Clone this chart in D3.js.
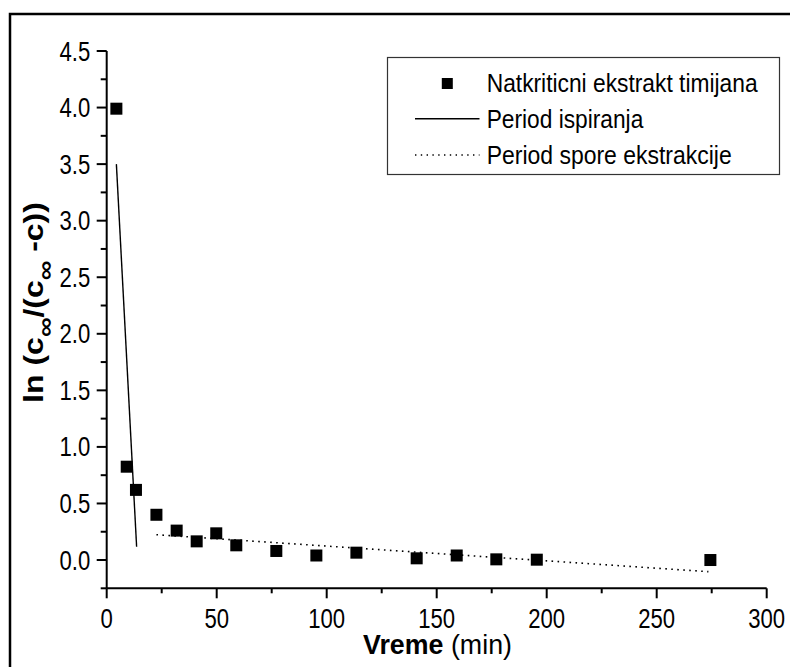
<!DOCTYPE html>
<html>
<head>
<meta charset="utf-8">
<script src="https://cdn.jsdelivr.net/npm/d3@7"></script>
<style>
  html, body { margin: 0; padding: 0; background: #fff; }
  svg { display: block; }
  .f { font-family: "Liberation Sans Narrow", "Arial Narrow", "Liberation Sans", Arial, sans-serif; }
</style>
</head>
<body>
<svg id="chart" width="790" height="667"></svg>
<script>
// ---- data ----
const timeMin = [4.4, 9.1, 13.3, 22.6, 31.8, 40.9, 49.8, 58.9, 77.1, 95.3, 113.5, 140.9, 159.1, 177.1, 195.5, 274.4];
const lnValue = [3.99, 0.825, 0.62, 0.40, 0.26, 0.165, 0.236, 0.13, 0.08, 0.04, 0.065, 0.015, 0.04, 0.006, 0.003, 0.0];
const washX = [4.4, 13.6];
const washY = [3.50, 0.118];
const slowX = [22.6, 273.5];
const slowY = [0.224, -0.103];
const xTicks = [0, 50, 100, 150, 200, 250, 300];
const yTicks = [0.0, 0.5, 1.0, 1.5, 2.0, 2.5, 3.0, 3.5, 4.0, 4.5];
const legendLabels = ["Natkriticni ekstrakt timijana", "Period ispiranja", "Period spore ekstrakcije"];

const svg = d3.select("#chart");
const tickFont = 27;
const narrow = 0.82;

// squeeze a text element horizontally to a target width (emulates a narrow face)
function fit(el, target) {
  const w = el.getComputedTextLength();
  return w > 0 ? target / w : 1;
}

// outer frame (only top/left visible in the picture)
svg.append("rect").attr("x", 10).attr("y", 14).attr("width", 800).attr("height", 700)
  .attr("fill", "none").attr("stroke", "#000").attr("stroke-width", 2.5);

const x = d3.scaleLinear().domain([0, 300]).range([106.7, 766.7]);
const y = d3.scaleLinear().domain([-0.25, 4.5]).range([588.3, 51]);

// x axis
const xMinor = d3.range(25, 300, 50);
const gx = svg.append("g").attr("transform", `translate(0,${y(-0.25)})`);
gx.append("line").attr("x1", x(0)).attr("x2", x(300)).attr("stroke", "#000").attr("stroke-width", 2);
gx.selectAll(".mj").data(xTicks).join("line")
  .attr("x1", d => x(d)).attr("x2", d => x(d)).attr("y1", 0).attr("y2", 10)
  .attr("stroke", "#000").attr("stroke-width", 2);
gx.selectAll(".mn").data(xMinor).join("line")
  .attr("x1", d => x(d)).attr("x2", d => x(d)).attr("y1", 0).attr("y2", 5)
  .attr("stroke", "#000").attr("stroke-width", 2);
gx.selectAll("text").data(xTicks).join("text").attr("class", "f")
  .attr("transform", d => `translate(${x(d)},40) scale(${narrow},1)`)
  .attr("text-anchor", "middle").attr("font-size", tickFont).text(d => d);

// y axis
const yMinor = d3.range(-0.25, 4.5, 0.5);
const gy = svg.append("g").attr("transform", `translate(${x(0)},0)`);
gy.append("line").attr("y1", y(-0.25)).attr("y2", y(4.5)).attr("stroke", "#000").attr("stroke-width", 2);
gy.selectAll(".mj").data(yTicks).join("line")
  .attr("y1", d => y(d)).attr("y2", d => y(d)).attr("x1", 0).attr("x2", -10)
  .attr("stroke", "#000").attr("stroke-width", 2);
gy.selectAll(".mn").data(yMinor).join("line")
  .attr("y1", d => y(d)).attr("y2", d => y(d)).attr("x1", 0).attr("x2", -6)
  .attr("stroke", "#000").attr("stroke-width", 2);
gy.selectAll("text").data(yTicks).join("text").attr("class", "f")
  .attr("transform", d => `translate(-16.5,${y(d) + 9.5}) scale(${narrow},1)`)
  .attr("text-anchor", "end").attr("font-size", tickFont).text(d => d.toFixed(1));

// lines
const line = d3.line().x(d => x(d[0])).y(d => y(d[1]));
svg.append("path").datum(d3.zip(washX, washY)).attr("d", line)
  .attr("fill", "none").attr("stroke", "#000").attr("stroke-width", 1.4);
svg.append("path").datum(d3.zip(slowX, slowY)).attr("d", line)
  .attr("fill", "none").attr("stroke", "#000").attr("stroke-width", 1.6).attr("stroke-dasharray", "1.6,4.4");

// points
const sq = 12;
svg.selectAll(".pt").data(d3.zip(timeMin, lnValue)).join("rect")
  .attr("x", d => x(d[0]) - sq / 2).attr("y", d => y(d[1]) - sq / 2)
  .attr("width", sq).attr("height", sq).attr("fill", "#000");

// axis titles
const xt = svg.append("text").attr("class", "f").attr("text-anchor", "middle").attr("font-size", 28);
xt.append("tspan").attr("font-weight", "bold").text("Vreme");
xt.append("tspan").text(" (min)");
xt.attr("transform", `translate(437.5,654) scale(${fit(xt.node(), 149)},1)`);

const yt = svg.append("text").attr("class", "f").attr("font-weight", "bold").attr("font-size", 27)
  .attr("text-anchor", "middle");
yt.append("tspan").text("ln (c");
yt.append("tspan").attr("font-size", 23).attr("dy", 10).text("∞");
yt.append("tspan").attr("dy", -10).text("/(c");
yt.append("tspan").attr("font-size", 23).attr("dy", 10).text("∞");
yt.append("tspan").attr("dy", -10).text(" -c))");
yt.attr("transform", `translate(43,302.5) rotate(-90) scale(${fit(yt.node(), 201)},1)`);

// legend
const lg = svg.append("g");
lg.append("rect").attr("x", 387.5).attr("y", 57.5).attr("width", 392).attr("height", 117)
  .attr("fill", "#fff").attr("stroke", "#333").attr("stroke-width", 1.2);
const rowsY = [83.5, 118.7, 155];
const legendWidths = [271, 156.7, 245];
lg.append("rect").attr("x", 447.3 - 5.5).attr("y", rowsY[0] - 5.5).attr("width", 11).attr("height", 11).attr("fill", "#000");
lg.append("line").attr("x1", 415).attr("x2", 479.5).attr("y1", rowsY[1]).attr("y2", rowsY[1])
  .attr("stroke", "#000").attr("stroke-width", 1.4);
lg.append("line").attr("x1", 415).attr("x2", 479.5).attr("y1", rowsY[2]).attr("y2", rowsY[2])
  .attr("stroke", "#000").attr("stroke-width", 1.4).attr("stroke-dasharray", "1.4,4.4");
lg.selectAll("text.lt").data(legendLabels).join("text").attr("class", "f lt")
  .attr("font-size", 25).text(d => d)
  .each(function (d, i) {
    const s = fit(this, legendWidths[i]);
    d3.select(this).attr("transform", `translate(486.7,${rowsY[i] + 8.8}) scale(${s},1)`);
  });
</script>
</body>
</html>
